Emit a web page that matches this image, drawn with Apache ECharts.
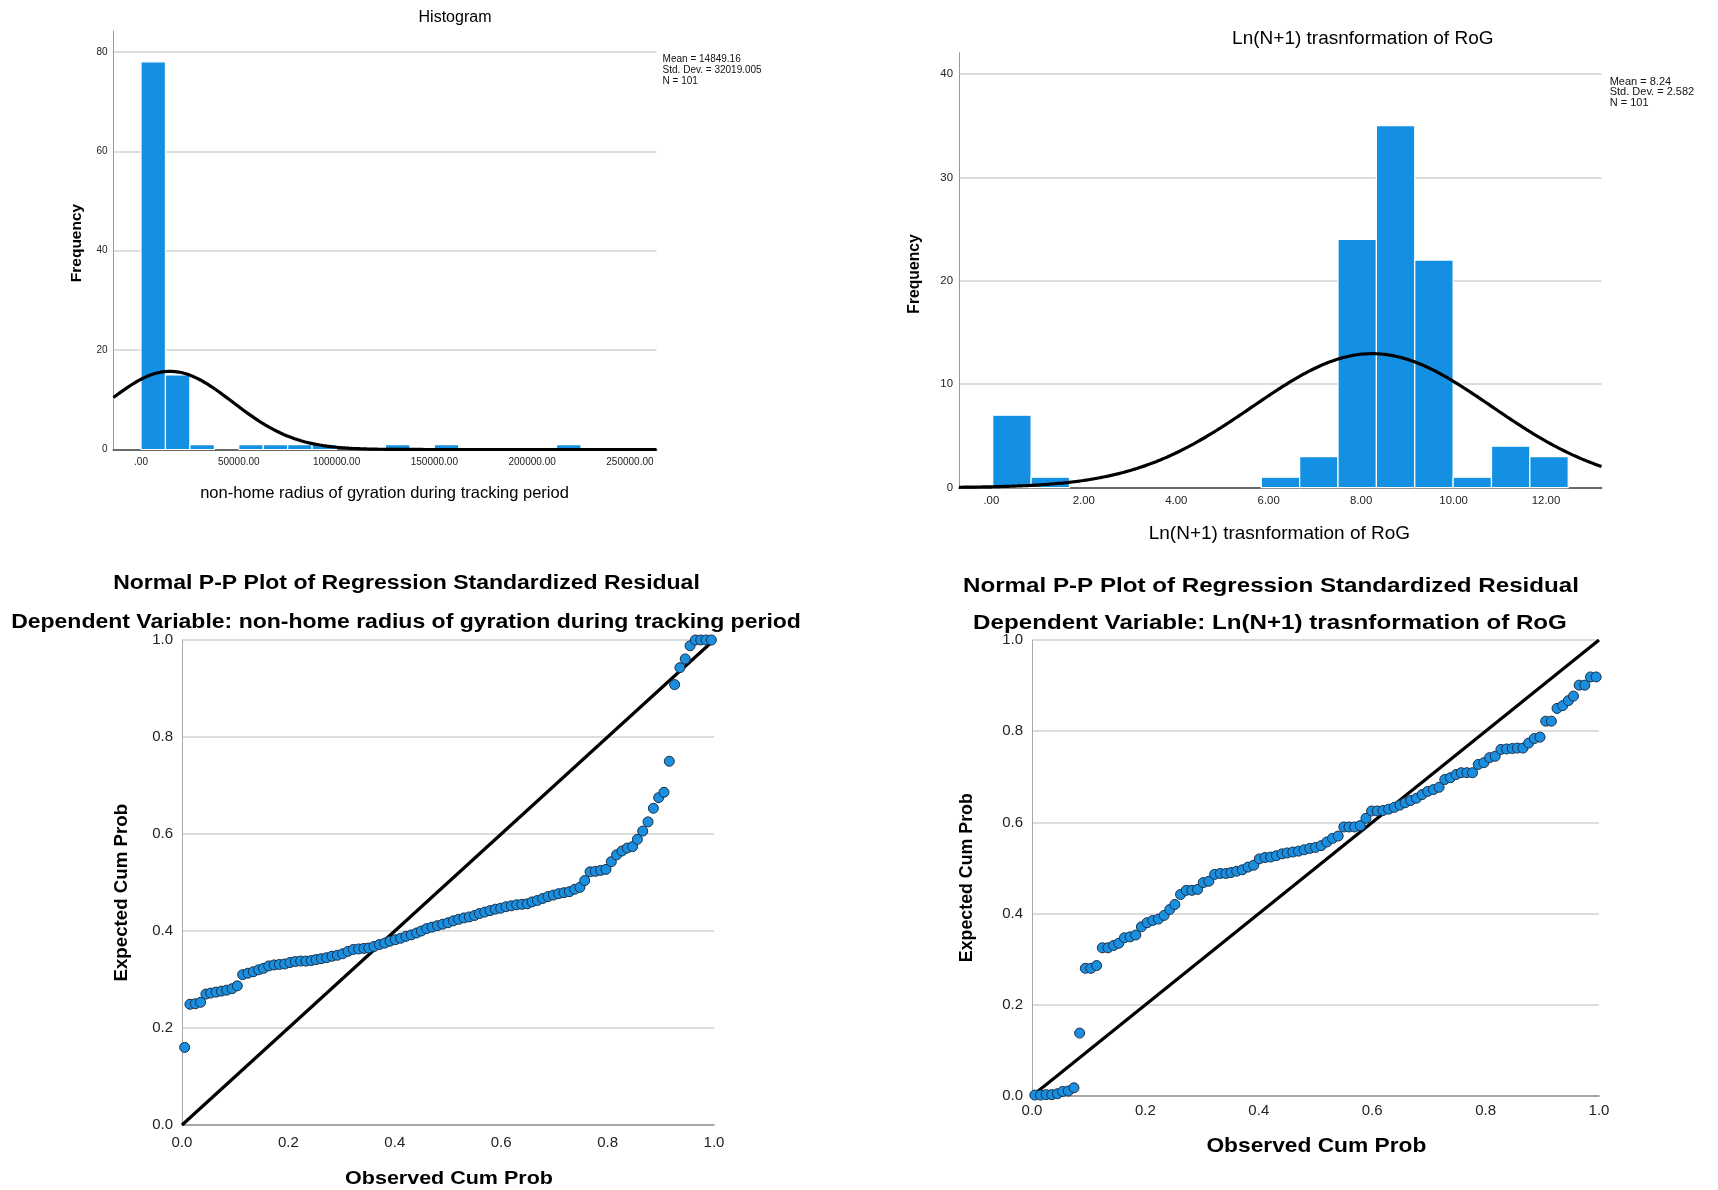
<!DOCTYPE html>
<html>
<head>
<meta charset="utf-8">
<script src="https://cdn.jsdelivr.net/npm/echarts@6/dist/echarts.min.js"></script>
<style>
  html, body { margin: 0; padding: 0; background: #ffffff; }
  #chart { width: 1718px; height: 1190px; }
</style>
</head>
<body>
<div id="chart"></div>
<script>
// ---- Histogram: non-home radius of gyration (raw) ----
const rogBinStart = 0;
const rogBinWidth = 12500;
const rogCounts = [78, 15, 1, 0, 1, 1, 1, 1, 0, 0, 1, 0, 1, 0, 0, 0, 0, 1];
const rogMean = 14849.16;
const rogSd = 32019.005;
const rogN = 101;
const rogTicks = [0, 50000, 100000, 150000, 200000, 250000];

// ---- Histogram: Ln(N+1) transformation of RoG ----
const lnBinStart = 0.03;
const lnBinWidth = 0.83;
const lnCounts = [7, 1, 0, 0, 0, 0, 0, 1, 3, 24, 35, 22, 1, 4, 3];
const lnMean = 8.24;
const lnSd = 2.582;
const lnN = 101;
const lnTicks = [0, 2, 4, 6, 8, 10, 12];

// ---- Normal P-P plots (observed vs expected cumulative probability) ----
const observedCumProb = [
  0.005, 0.015, 0.025, 0.035, 0.045, 0.054, 0.064, 0.074, 0.084, 0.094,
  0.104, 0.114, 0.124, 0.134, 0.144, 0.153, 0.163, 0.173, 0.183, 0.193,
  0.203, 0.213, 0.223, 0.233, 0.243, 0.252, 0.262, 0.272, 0.282, 0.292,
  0.302, 0.312, 0.322, 0.332, 0.342, 0.351, 0.361, 0.371, 0.381, 0.391,
  0.401, 0.411, 0.421, 0.431, 0.441, 0.450, 0.460, 0.470, 0.480, 0.490,
  0.500, 0.510, 0.520, 0.530, 0.540, 0.550, 0.559, 0.569, 0.579, 0.589,
  0.599, 0.609, 0.619, 0.629, 0.639, 0.649, 0.658, 0.668, 0.678, 0.688,
  0.698, 0.708, 0.718, 0.728, 0.738, 0.748, 0.757, 0.767, 0.777, 0.787,
  0.797, 0.807, 0.817, 0.827, 0.837, 0.847, 0.856, 0.866, 0.876, 0.886,
  0.896, 0.906, 0.916, 0.926, 0.936, 0.946, 0.955, 0.965, 0.975, 0.985,
  0.995
];
const expectedRaw = [
  0.160, 0.249, 0.250, 0.253, 0.270, 0.272, 0.274, 0.276, 0.278, 0.281,
  0.287, 0.310, 0.313, 0.316, 0.320, 0.323, 0.328, 0.330, 0.331, 0.332,
  0.335, 0.337, 0.338, 0.338, 0.339, 0.341, 0.343, 0.345, 0.348, 0.350,
  0.353, 0.358, 0.362, 0.363, 0.364, 0.365, 0.368, 0.372, 0.375, 0.379,
  0.382, 0.385, 0.389, 0.392, 0.396, 0.400, 0.405, 0.408, 0.411, 0.414,
  0.417, 0.421, 0.424, 0.427, 0.429, 0.432, 0.436, 0.439, 0.442, 0.445,
  0.447, 0.450, 0.452, 0.454, 0.455, 0.456, 0.460, 0.463, 0.467, 0.471,
  0.474, 0.477, 0.479, 0.481, 0.486, 0.490, 0.504, 0.522, 0.523, 0.525,
  0.527, 0.543, 0.557, 0.565, 0.571, 0.574, 0.589, 0.606, 0.625, 0.653,
  0.675, 0.686, 0.750, 0.908, 0.943, 0.961, 0.988, 1.000, 1.000, 1.000,
  1.000
];
const expectedLn = [
  0.002, 0.002, 0.003, 0.003, 0.005, 0.010, 0.011, 0.018, 0.138, 0.280,
  0.280, 0.286, 0.325, 0.325, 0.330, 0.335, 0.347, 0.349, 0.353, 0.371,
  0.380, 0.385, 0.388, 0.396, 0.409, 0.420, 0.442, 0.451, 0.451, 0.453,
  0.468, 0.471, 0.486, 0.488, 0.488, 0.490, 0.493, 0.496, 0.502, 0.506,
  0.520, 0.523, 0.524, 0.527, 0.531, 0.533, 0.535, 0.537, 0.540, 0.543,
  0.545, 0.549, 0.557, 0.565, 0.570, 0.590, 0.590, 0.590, 0.593, 0.609,
  0.625, 0.625, 0.626, 0.629, 0.633, 0.638, 0.643, 0.648, 0.653, 0.661,
  0.668, 0.672, 0.677, 0.694, 0.698, 0.705, 0.709, 0.709, 0.709, 0.727,
  0.731, 0.742, 0.745, 0.760, 0.761, 0.762, 0.763, 0.763, 0.774, 0.784,
  0.787, 0.822, 0.822, 0.850, 0.856, 0.867, 0.877, 0.901, 0.901, 0.919,
  0.919
];
const ppTicks = [0, 0.2, 0.4, 0.6, 0.8, 1.0];
const identityLine = [[0, 0], [1, 1]];

// ---- styling ----
const FONT = "'Liberation Sans', Arial, Helvetica, sans-serif";
const BAR = '#1490e2';
const DOT = '#1a8fe0';
const GRID_LINE = '#d2d2d2';

// bins -> [start, end, count]
function toBins(start, width, counts) {
  const out = [];
  counts.forEach((c, i) => {
    if (c > 0) out.push([start + i * width, start + (i + 1) * width, c]);
  });
  return out;
}

// normal density scaled to the histogram (N * bin width)
function normalCurve(mean, sd, n, bw, xmin, xmax, steps) {
  const pts = [];
  const k = n * bw / (sd * Math.sqrt(2 * Math.PI));
  for (let s = 0; s <= steps; s++) {
    const x = xmin + (xmax - xmin) * s / steps;
    const z = (x - mean) / sd;
    pts.push([x, k * Math.exp(-0.5 * z * z)]);
  }
  return pts;
}

function renderBar(params, api) {
  const p0 = api.coord([api.value(0), api.value(2)]);
  const p1 = api.coord([api.value(1), 0]);
  return {
    type: 'rect',
    shape: { x: p0[0], y: p0[1], width: p1[0] - p0[0], height: p1[1] - p0[1] },
    style: { fill: BAR, stroke: '#ffffff', lineWidth: 1.2 }
  };
}

const fmtHist = v => (v === 0 ? '.00' : v.toFixed(2));

const rogX = [-14060, 263600];
const lnX = [-0.70, 13.20];

function histY(grid, max, interval, size) {
  return {
    type: 'value', gridIndex: grid, min: 0, max: max, interval: interval,
    axisLine: { show: true, onZero: false, lineStyle: { color: '#9a9a9a', width: 1 } },
    axisTick: { show: false },
    axisLabel: { fontFamily: FONT, fontSize: size, color: '#222', margin: 6, showMaxLabel: false },
    splitLine: { show: true, showMaxLine: false, showMinLine: false, lineStyle: { color: GRID_LINE, width: 1.5 } }
  };
}
function histX(grid, range, ticks, size) {
  return {
    type: 'value', gridIndex: grid, min: range[0], max: range[1],
    axisLine: { show: true, onZero: false, lineStyle: { color: '#6a6a6a', width: 2 } },
    axisTick: { show: false },
    splitLine: { show: false },
    axisLabel: { fontFamily: FONT, fontSize: size, color: '#222', margin: 8, customValues: ticks, formatter: fmtHist }
  };
}
function ppAxis(grid, isX, margin) {
  return {
    type: 'value', gridIndex: grid, min: 0, max: 1, interval: 0.2,
    axisLine: { show: true, onZero: false, lineStyle: { color: isX ? '#8a8a8a' : '#a8a8a8', width: isX ? 1.5 : 1 } },
    axisTick: { show: false },
    axisLabel: { fontFamily: FONT, fontSize: 15, color: '#222', margin: margin, formatter: v => v.toFixed(1) },
    splitLine: isX ? { show: false } : { show: true, showMinLine: false, lineStyle: { color: GRID_LINE, width: 1.5 } }
  };
}

function txt(x, y, text, font, extra) {
  return Object.assign({
    type: 'text', x: x, y: y, silent: true,
    style: { text: text, font: font, fill: '#000', textAlign: 'center', textVerticalAlign: 'middle', align: 'center', verticalAlign: 'middle' }
  }, extra || {});
}
function txtLeft(x, y, text, font) {
  return {
    type: 'text', x: x, y: y, silent: true,
    style: { text: text, font: font, fill: '#111', textAlign: 'left', textVerticalAlign: 'middle', align: 'left', verticalAlign: 'middle' }
  };
}

const chart = echarts.init(document.getElementById('chart'), null, { renderer: 'canvas' });

const option = {
  backgroundColor: '#ffffff',
  animation: false,
  grid: [
    { left: 113.5, top: 31, width: 543, height: 418.5, containLabel: false, outerBoundsMode: 'none' },
    { left: 959, top: 52.7, width: 642.5, height: 434.9, containLabel: false, outerBoundsMode: 'none' },
    { left: 182, top: 640, width: 532, height: 485, containLabel: false, outerBoundsMode: 'none' },
    { left: 1032, top: 640, width: 567, height: 456, containLabel: false, outerBoundsMode: 'none' }
  ],
  xAxis: [
    histX(0, rogX, rogTicks, 10),
    histX(1, lnX, lnTicks, 11.4),
    ppAxis(2, true, 10),
    ppAxis(3, true, 7)
  ],
  yAxis: [
    histY(0, 84.2, 20, 10),
    histY(1, 42.06, 10, 11.4),
    ppAxis(2, false, 9),
    ppAxis(3, false, 9)
  ],
  series: [
    {
      type: 'custom', xAxisIndex: 0, yAxisIndex: 0, renderItem: renderBar,
      encode: { x: [0, 1], y: 2 }, data: toBins(rogBinStart, rogBinWidth, rogCounts), z: 2
    },
    {
      type: 'line', xAxisIndex: 0, yAxisIndex: 0, showSymbol: false, symbol: 'none', smooth: false,
      lineStyle: { color: '#000', width: 3.2 },
      data: normalCurve(rogMean, rogSd, rogN, rogBinWidth, rogX[0], rogX[1], 300), z: 3
    },
    {
      type: 'custom', xAxisIndex: 1, yAxisIndex: 1, renderItem: renderBar,
      encode: { x: [0, 1], y: 2 }, data: toBins(lnBinStart, lnBinWidth, lnCounts), z: 2
    },
    {
      type: 'line', xAxisIndex: 1, yAxisIndex: 1, showSymbol: false, symbol: 'none', smooth: false,
      lineStyle: { color: '#000', width: 3.2 },
      data: normalCurve(lnMean, lnSd, lnN, lnBinWidth, lnX[0], lnX[1], 300), z: 3
    },
    {
      type: 'line', xAxisIndex: 2, yAxisIndex: 2, symbol: 'none',
      lineStyle: { color: '#000', width: 3.2 }, data: identityLine, z: 2
    },
    {
      type: 'scatter', xAxisIndex: 2, yAxisIndex: 2, symbolSize: 10, clip: false,
      itemStyle: { color: DOT, borderColor: '#1b2f47', borderWidth: 1, opacity: 1 },
      data: observedCumProb.map((x, i) => [x, expectedRaw[i]]), z: 3
    },
    {
      type: 'line', xAxisIndex: 3, yAxisIndex: 3, symbol: 'none',
      lineStyle: { color: '#000', width: 3.2 }, data: identityLine, z: 2
    },
    {
      type: 'scatter', xAxisIndex: 3, yAxisIndex: 3, symbolSize: 10, clip: false,
      itemStyle: { color: DOT, borderColor: '#1b2f47', borderWidth: 1, opacity: 1 },
      data: observedCumProb.map((x, i) => [x, expectedLn[i]]), z: 3
    }
  ],
  graphic: { elements: [
    // raw histogram
    txt(455, 17.5, 'Histogram', `16px ${FONT}`),
    txt(77, 243, 'Frequency', `bold 15.5px ${FONT}`, { rotation: Math.PI / 2 }),
    txt(384.5, 493, 'non-home radius of gyration during tracking period', `16.5px ${FONT}`),
    txtLeft(662.6, 59.3, `Mean = ${rogMean.toFixed(2)}`, `10px ${FONT}`),
    txtLeft(662.6, 70.3, `Std. Dev. = ${rogSd.toFixed(3)}`, `10px ${FONT}`),
    txtLeft(662.6, 81.3, `N = ${rogN}`, `10px ${FONT}`),
    // log histogram
    txt(1362.8, 38.4, 'Ln(N+1) trasnformation of RoG', `19px ${FONT}`),
    txt(914.7, 274, 'Frequency', `bold 15.7px ${FONT}`, { rotation: Math.PI / 2 }),
    txt(1279.4, 534, 'Ln(N+1) trasnformation of RoG', `19px ${FONT}`),
    txtLeft(1609.7, 81.8, `Mean = ${lnMean.toFixed(2)}`, `11px ${FONT}`),
    txtLeft(1609.7, 92.3, `Std. Dev. = ${lnSd.toFixed(3)}`, `11px ${FONT}`),
    txtLeft(1609.7, 102.8, `N = ${lnN}`, `11px ${FONT}`),
    // P-P plot, raw dependent variable
    txt(406.5, 583.4, 'Normal P-P Plot of Regression Standardized Residual', `bold 20px ${FONT}`, { scaleX: 1.15 }),
    txt(406, 622.5, 'Dependent Variable: non-home radius of gyration during tracking period', `bold 20px ${FONT}`, { scaleX: 1.15 }),
    txt(121.8, 892.7, 'Expected Cum Prob', `bold 18.7px ${FONT}`, { rotation: Math.PI / 2 }),
    txt(449, 1179, 'Observed Cum Prob', `bold 18.7px ${FONT}`, { scaleX: 1.15 }),
    // P-P plot, log dependent variable
    txt(1271, 586, 'Normal P-P Plot of Regression Standardized Residual', `bold 21px ${FONT}`, { scaleX: 1.15 }),
    txt(1270, 623, 'Dependent Variable: Ln(N+1) trasnformation of RoG', `bold 21px ${FONT}`, { scaleX: 1.15 }),
    txt(966.7, 877.7, 'Expected Cum Prob', `bold 17.8px ${FONT}`, { rotation: Math.PI / 2 }),
    txt(1316.4, 1147, 'Observed Cum Prob', `bold 19.8px ${FONT}`, { scaleX: 1.15 })
  ] }
};

chart.setOption(option);
</script>
</body>
</html>
